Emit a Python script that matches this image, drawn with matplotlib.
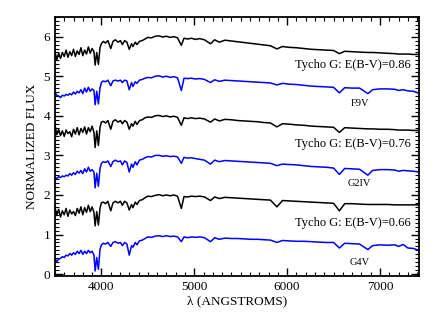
import numpy as np
import matplotlib
matplotlib.use('Agg')
import matplotlib.pyplot as plt
from matplotlib.ticker import MultipleLocator

plt.rcParams['font.family'] = ['Liberation Serif', 'DejaVu Serif']
plt.rcParams['mathtext.fontset'] = 'stix'

# wavelength grid (Angstroms)
wave = [3500, 3520, 3540, 3560, 3580, 3600, 3620, 3640, 3660, 3680, 3700, 3720, 3740, 3760,
        3780, 3800, 3820, 3840, 3860, 3880, 3900, 3920, 3933, 3950, 3968, 3985, 4000,
        4020, 4045, 4070, 4101, 4125, 4150, 4180, 4205, 4226, 4250, 4275, 4300, 4325, 4340,
        4365, 4383, 4410, 4440, 4470, 4500, 4540, 4580, 4620, 4660, 4700, 4740, 4780, 4820,
        4861, 4890, 4930, 4970,
        5010, 5060, 5110, 5175, 5220, 5270, 5330, 5400, 5470, 5540, 5610, 5680, 5750, 5820,
        5890, 5950, 6020, 6100, 6180, 6260, 6340, 6420, 6500, 6563, 6620, 6700, 6780, 6870,
        6920, 7000, 7080, 7160, 7200, 7250, 7300, 7360, 7420]

# Tycho G, E(B-V)=0.86
tycho_086 = [0.62, 0.42, 0.58, 0.45, 0.60, 0.50, 0.66, 0.48, 0.62, 0.52, 0.68, 0.50, 0.64, 0.55,
             0.72, 0.52, 0.66, 0.56, 0.74, 0.58, 0.70, 0.62, 0.28, 0.60, 0.30, 0.72, 0.82,
             0.88, 0.84, 0.90, 0.70, 0.88, 0.92, 0.86, 0.90, 0.80, 0.90, 0.86, 0.68, 0.82, 0.75,
             0.86, 0.80, 0.88, 0.90, 0.94, 0.98, 0.97, 1.01, 1.02, 0.99, 1.01, 0.98, 1.00, 0.97,
             0.78, 0.96, 0.94, 0.96,
             0.93, 0.95, 0.92, 0.82, 0.92, 0.86, 0.91, 0.89, 0.87, 0.85, 0.83, 0.81, 0.79, 0.77,
             0.69, 0.75, 0.73, 0.72, 0.70, 0.68, 0.67, 0.66, 0.65, 0.57, 0.63, 0.62, 0.61, 0.60,
             0.60, 0.59, 0.58, 0.57, 0.56, 0.56, 0.56, 0.55, 0.55]
# F9V template
f9v = [0.58, 0.52, 0.50, 0.46, 0.52, 0.50, 0.54, 0.52, 0.56, 0.53, 0.60, 0.55, 0.62, 0.58,
       0.66, 0.56, 0.70, 0.60, 0.72, 0.62, 0.68, 0.64, 0.28, 0.62, 0.30, 0.70, 0.84,
       0.88, 0.86, 0.90, 0.76, 0.88, 0.90, 0.88, 0.90, 0.84, 0.90, 0.88, 0.66, 0.84, 0.74,
       0.86, 0.82, 0.90, 0.92, 0.95, 0.97, 0.96, 1.00, 1.01, 0.98, 1.00, 0.97, 0.99, 0.96,
       0.64, 0.95, 0.94, 0.95,
       0.93, 0.94, 0.92, 0.84, 0.91, 0.87, 0.90, 0.89, 0.88, 0.87, 0.86, 0.85, 0.84, 0.83,
       0.78, 0.82, 0.80, 0.79, 0.77, 0.75, 0.74, 0.73, 0.72, 0.58, 0.71, 0.70, 0.70, 0.56,
       0.66, 0.68, 0.68, 0.67, 0.64, 0.66, 0.63, 0.62, 0.57]
# Tycho G, E(B-V)=0.76
tycho_076 = [0.78, 0.52, 0.66, 0.50, 0.62, 0.48, 0.64, 0.55, 0.60, 0.47, 0.66, 0.54, 0.70, 0.52,
             0.68, 0.58, 0.72, 0.54, 0.70, 0.60, 0.74, 0.58, 0.20, 0.62, 0.25, 0.70, 0.84,
             0.86, 0.82, 0.88, 0.66, 0.86, 0.90, 0.84, 0.88, 0.80, 0.88, 0.84, 0.66, 0.80, 0.74,
             0.86, 0.78, 0.88, 0.90, 0.95, 0.97, 0.96, 1.00, 1.01, 0.98, 1.00, 0.97, 0.99, 0.96,
             0.76, 0.95, 0.93, 0.95,
             0.93, 0.94, 0.92, 0.84, 0.92, 0.87, 0.91, 0.90, 0.88, 0.87, 0.86, 0.85, 0.83, 0.82,
             0.72, 0.80, 0.79, 0.77, 0.76, 0.74, 0.73, 0.72, 0.71, 0.58, 0.70, 0.69, 0.68, 0.67,
             0.67, 0.66, 0.66, 0.65, 0.64, 0.64, 0.64, 0.63, 0.63]
# G2IV template
g2iv = [0.44, 0.42, 0.46, 0.44, 0.48, 0.46, 0.50, 0.48, 0.54, 0.50, 0.56, 0.52, 0.60, 0.55,
        0.62, 0.54, 0.66, 0.58, 0.70, 0.60, 0.64, 0.58, 0.18, 0.55, 0.22, 0.66, 0.80,
        0.84, 0.82, 0.86, 0.72, 0.84, 0.88, 0.84, 0.86, 0.76, 0.86, 0.82, 0.58, 0.78, 0.70,
        0.84, 0.76, 0.88, 0.90, 0.94, 0.97, 0.96, 1.00, 1.00, 0.98, 0.99, 0.97, 0.98, 0.96,
        0.80, 0.95, 0.93, 0.94,
        0.92, 0.90, 0.88, 0.78, 0.88, 0.84, 0.87, 0.86, 0.85, 0.84, 0.83, 0.82, 0.81, 0.80,
        0.74, 0.78, 0.77, 0.76, 0.74, 0.72, 0.71, 0.70, 0.68, 0.52, 0.67, 0.66, 0.65, 0.50,
        0.62, 0.64, 0.64, 0.63, 0.60, 0.62, 0.61, 0.60, 0.58]
# Tycho G, E(B-V)=0.66
tycho_066 = [0.70, 0.48, 0.64, 0.44, 0.60, 0.50, 0.66, 0.46, 0.62, 0.52, 0.58, 0.48, 0.66, 0.54,
             0.70, 0.50, 0.68, 0.56, 0.74, 0.58, 0.70, 0.56, 0.22, 0.58, 0.24, 0.66, 0.80,
             0.82, 0.78, 0.84, 0.60, 0.80, 0.84, 0.80, 0.84, 0.74, 0.84, 0.80, 0.62, 0.76, 0.68,
             0.82, 0.76, 0.86, 0.88, 0.93, 0.97, 0.96, 0.99, 1.01, 0.98, 1.00, 0.98, 1.00, 0.97,
             0.66, 0.96, 0.95, 0.97,
             0.96, 0.97, 0.95, 0.86, 0.95, 0.91, 0.94, 0.93, 0.92, 0.91, 0.90, 0.89, 0.88, 0.87,
             0.70, 0.86, 0.85, 0.84, 0.83, 0.82, 0.81, 0.80, 0.79, 0.60, 0.78, 0.78, 0.77, 0.76,
             0.76, 0.76, 0.76, 0.75, 0.75, 0.75, 0.75, 0.75, 0.75]
# G4V template
g4v = [0.40, 0.32, 0.38, 0.40, 0.44, 0.42, 0.48, 0.46, 0.52, 0.48, 0.54, 0.50, 0.58, 0.52,
       0.60, 0.50, 0.58, 0.52, 0.60, 0.54, 0.58, 0.48, 0.08, 0.42, 0.12, 0.62, 0.74,
       0.78, 0.76, 0.80, 0.70, 0.80, 0.82, 0.78, 0.80, 0.72, 0.80, 0.76, 0.48, 0.72, 0.68,
       0.80, 0.74, 0.84, 0.86, 0.90, 0.94, 0.93, 0.96, 0.97, 0.95, 0.97, 0.95, 0.96, 0.94,
       0.82, 0.94, 0.92, 0.94,
       0.93, 0.94, 0.92, 0.82, 0.92, 0.88, 0.91, 0.90, 0.90, 0.89, 0.88, 0.88, 0.87, 0.86,
       0.80, 0.85, 0.84, 0.83, 0.83, 0.82, 0.81, 0.80, 0.80, 0.66, 0.78, 0.77, 0.76, 0.62,
       0.72, 0.74, 0.73, 0.74, 0.70, 0.75, 0.66, 0.65, 0.60]

spectra = [tycho_086, f9v, tycho_076, g2iv, tycho_066, g4v]
offsets = [5, 4, 3, 2, 1, 0]
colors = ['black', 'blue', 'black', 'blue', 'black', 'blue']

tycho_labels = ['Tycho G: E(B-V)=0.86', 'Tycho G: E(B-V)=0.76', 'Tycho G: E(B-V)=0.66']
tycho_offsets = [5, 3, 1]
type_labels = ['F9V', 'G2IV', 'G4V']
type_offsets = [4, 2, 0]

fig = plt.figure(figsize=(4.36, 3.12), dpi=100)
ax = fig.add_axes([0.126, 0.115, 0.835, 0.831])

w = np.array(wave)
for flux, off, c in zip(spectra, offsets, colors):
    ax.plot(w, np.array(flux) + off, color=c, lw=1.1)

for lab, off in zip(tycho_labels, tycho_offsets):
    ax.text(7330, off + 0.28, lab, ha='right', va='center', fontsize=9)
for lab, off in zip(type_labels, type_offsets):
    ax.text(6780, off + 0.3, lab, ha='center', va='center', fontsize=7.5)

ax.set_xlim(3500, 7420)
ax.set_ylim(-0.05, 6.5)
ax.xaxis.set_major_locator(MultipleLocator(1000))
ax.xaxis.set_minor_locator(MultipleLocator(100))
ax.yaxis.set_major_locator(MultipleLocator(1))
ax.yaxis.set_minor_locator(MultipleLocator(0.1))
ax.tick_params(which='both', direction='in', top=True, right=True, labelsize=9.5)
ax.tick_params(which='major', length=6, width=1)
ax.tick_params(which='minor', length=3, width=0.8)
for s in ax.spines.values():
    s.set_linewidth(1.3)

ax.set_xlabel('λ (ANGSTROMS)', fontsize=9.5, labelpad=2)
ax.set_ylabel('NORMALIZED FLUX', fontsize=9.5, labelpad=4)

plt.savefig('out.png', dpi=100)
